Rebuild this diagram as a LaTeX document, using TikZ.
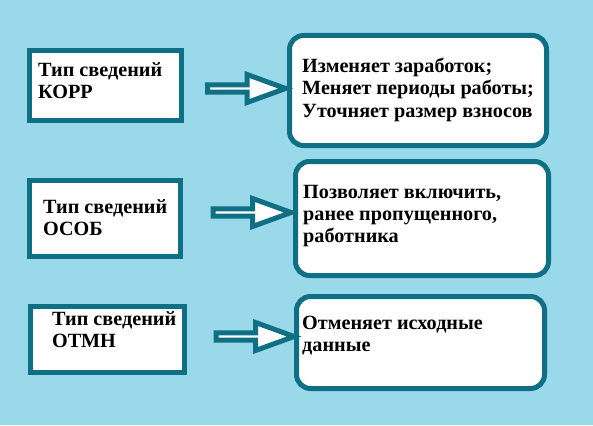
\documentclass[tikz,border=0pt]{standalone}
\usepackage{fontspec}
\setmainfont{Liberation Serif}
\usetikzlibrary{shapes.arrows}
\definecolor{skyback}{HTML}{99D9EA}
\definecolor{tealline}{HTML}{0F6F84}

\begin{document}
\begin{tikzpicture}[
  x=1pt, y=-1pt,
  typebox/.style={draw=tealline, fill=white, line width=5pt, rectangle,
                  inner sep=0pt},
  infobox/.style={draw=tealline, fill=white, line width=5pt, rectangle,
                  rounded corners=14pt, inner sep=0pt},
  txt/.style={anchor=base west, inner sep=0pt, align=left,
              font=\fontsize{20.2}{22}\selectfont\bfseries},
  flow/.style={single arrow, draw=tealline, fill=white, line width=5pt,
               inner sep=0pt, minimum height=78pt, minimum width=28pt,
               single arrow head extend=7pt, single arrow tip angle=40}
]
  \fill[skyback] (0,0) rectangle (593,425);
  \useasboundingbox (0,0) rectangle (593,425);

  % left column
  \node[typebox, minimum width=152pt, minimum height=70pt] (korr) at (105.5,85.5) {};
  \node[typebox, minimum width=151pt, minimum height=76pt] (osob) at (105,218.5) {};
  \node[typebox, minimum width=154pt, minimum height=66pt] (otmn) at (107.5,339.5) {};
  \node[txt] (korrtxt) at (38,99) {Тип сведений\\КОРР};
  \node[txt] (osobtxt) at (43,235) {Тип сведений\\ОСОБ};
  \node[txt] (otmntxt) at (52,347) {Тип сведений\\ОТМН};

  % right column
  \node[infobox, minimum width=257pt, minimum height=110pt] (change) at (418,90.5) {};
  \node[infobox, minimum width=253pt, minimum height=114pt] (addin) at (422,218.5) {};
  \node[infobox, minimum width=248pt, minimum height=92pt] (cancel) at (420.5,342.5) {};
  \node[txt] (changetxt) at (302,117)
    {Изменяет заработок;\\Меняет периоды работы;\\Уточняет размер взносов};
  \node[txt] (addintxt) at (303,242)
    {Позволяет включить,\\ранее пропущенного,\\работника};
  \node[txt] (canceltxt) at (302,351) {Отменяет исходные\\данные};

  % arrows
  \node[flow] (arr1) at (241.5,88.5) {};
  \node[flow] (arr2) at (247,212.5) {};
  \node[flow] (arr3) at (250,336.5) {};
\end{tikzpicture}
\end{document}
